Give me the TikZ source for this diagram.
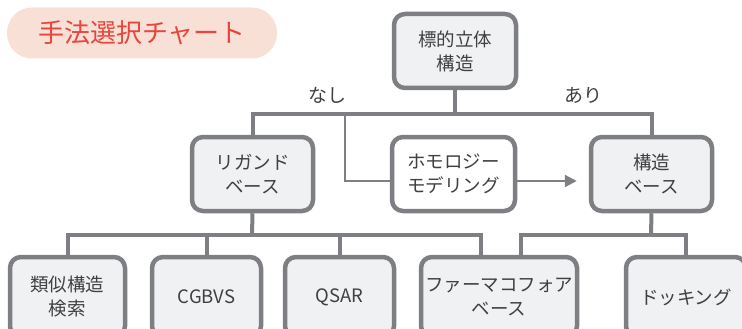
\documentclass[tikz,border=0pt]{standalone}
\usepackage{fontspec}
\setmainfont{Noto Sans CJK JP}
\usetikzlibrary{arrows.meta,calc}
\definecolor{boxline}{HTML}{7E7F82}
\definecolor{boxfill}{HTML}{F0F1F3}
\definecolor{txt}{HTML}{404040}
\definecolor{pill}{HTML}{F9E0D7}
\definecolor{titlered}{HTML}{E8453C}
\tikzset{
  box/.style={draw=boxline, line width=4.5pt, fill=boxfill, rounded corners=11pt,
    align=center, text=txt, font=\fontsize{18.5}{24}\selectfont, inner sep=0pt},
  conn/.style={draw=boxline, line width=4pt},
  thinconn/.style={draw=boxline, line width=2.2pt},
  lbl/.style={text=txt, font=\fontsize{19}{22}\selectfont, inner sep=0pt},
}
\begin{document}
\begin{tikzpicture}[x=1pt,y=-1pt]
\useasboundingbox (0,0) rectangle (742,329);
\begin{scope}
\clip (0,0) rectangle (742,329);
% title
\node[fill=pill, rounded corners=25pt, minimum width=270pt, minimum height=51pt,
  text=titlered, font=\fontsize{26}{30}\selectfont, inner sep=0pt] (title) at (142,33) {手法選択チャート};
% nodes
\node[box, minimum width=122pt, minimum height=74pt] (top) at (455,51) {標的立体\\構造};
\node[box, minimum width=121pt, minimum height=74pt] (lig) at (252.5,174) {リガンド\\ベース};
\node[box, fill=white, minimum width=123pt, minimum height=74pt] (hom) at (453.5,174) {ホモロジー\\モデリング};
\node[box, minimum width=121pt, minimum height=74pt] (str) at (651.5,174) {構造\\ベース};
\node[box, minimum width=115pt, minimum height=80pt] (b1) at (67.5,297) {類似構造\\検索};
\node[box, minimum width=109pt, minimum height=80pt] (b2) at (206.5,297) {CGBVS};
\node[box, minimum width=109pt, minimum height=80pt] (b3) at (339.5,297) {QSAR};
\node[box, minimum width=156pt, minimum height=80pt] (b4) at (499,297) {ファーマコフォア\\ベース};
\node[box, minimum width=120pt, minimum height=80pt] (b5) at (686,297) {ドッキング};
% labels
\node[lbl] (nashi) at (327,95) {なし};
\node[lbl] (ari) at (583,95) {あり};
% junctions
\coordinate (j1) at (455,114);
\coordinate (j2) at (345,114);
\coordinate (j3) at (252,235);
\coordinate (j4) at (651,235);
% connectors
\draw[conn] (top.south) -- (j1);
\draw[conn] (lig.north) |- (j1) -| (str.north);
\draw[thinconn] (j2) |- ([yshift=-7pt]hom.west);
\draw[thinconn, -{Triangle[length=12pt,width=12pt]}] ([yshift=-7pt]hom.east) -- ([xshift=-12pt,yshift=-7pt]str.west);
\draw[conn] (lig.south) -- (j3);
\draw[conn] (b1.north) |- (j3) -| ([xshift=-18pt]b4.north);
\draw[conn] (b2.north) -- (b2.north |- j3);
\draw[conn] (b3.north) -- (b3.north |- j3);
\draw[conn] (str.south) -- (j4);
\draw[conn] ([xshift=22pt]b4.north) |- (j4) -| (b5.north);
\end{scope}
\end{tikzpicture}
\end{document}
